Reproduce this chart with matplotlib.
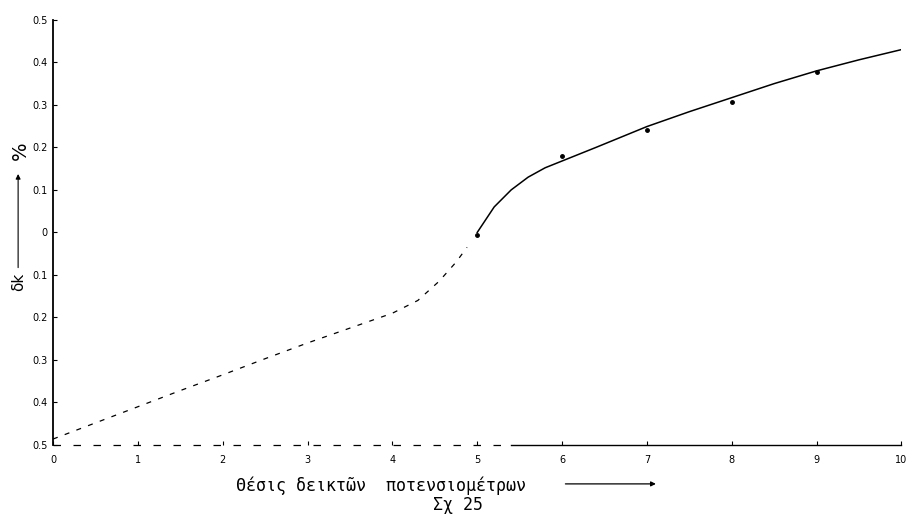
import matplotlib
matplotlib.use("Agg")
import matplotlib.pyplot as plt

# extrapolated (dashed) part of the curve
dash_x = [0, 0.5, 1, 1.5, 2, 2.5, 3, 3.5, 4, 4.3, 4.55, 4.75, 4.88]
dash_y = [-0.486, -0.448, -0.41, -0.372, -0.335, -0.297, -0.26, -0.225, -0.19, -0.16, -0.115, -0.07, -0.035]

# measured (solid) part of the curve
solid_x = [5.0, 5.2, 5.4, 5.6, 5.8, 6.0, 6.4, 7.0, 7.5, 8.0, 8.5, 9.0, 9.5, 10.0]
solid_y = [0.0, 0.06, 0.1, 0.13, 0.152, 0.168, 0.2, 0.249, 0.284, 0.317, 0.35, 0.38, 0.406, 0.43]

# measured points
pts_x = [5, 6, 7, 8, 9]
pts_y = [-0.005, 0.18, 0.242, 0.307, 0.377]

yticks = [0.5, 0.4, 0.3, 0.2, 0.1, 0, -0.1, -0.2, -0.3, -0.4, -0.5]
ytick_labels = ["0.5", "0.4", "0.3", "0.2", "0.1", "0", "0.1", "0.2", "0.3", "0.4", "0.5"]
xticks = list(range(0, 11))

fig = plt.figure(figsize=(9.06, 5.22), dpi=100)
ax = fig.add_axes([0.0585, 0.1475, 0.9365, 0.8145])

ax.plot(dash_x, dash_y, color="black", lw=0.9, ls=(0, (4, 6)))
ax.plot(solid_x, solid_y, color="black", lw=1.1)
ax.plot(pts_x, pts_y, "o", color="black", ms=2.5)

ax.set_xlim(0, 10)
ax.set_ylim(-0.5, 0.5)
ax.set_yticks(yticks)
ax.set_yticklabels(ytick_labels)
ax.set_xticks(xticks)
ax.tick_params(direction="in", length=3, width=0.8, labelsize=7)
ax.tick_params(axis="y", pad=4)
ax.tick_params(axis="x", pad=7)

for s in ["top", "right", "bottom"]:
    ax.spines[s].set_visible(False)
ax.spines["left"].set_linewidth(1.3)

# broken bottom axis line as in the scan
ax.axhline(-0.5, 0, 0.54, color="black", lw=0.9, ls=(0, (6, 10)), clip_on=False)
ax.axhline(-0.5, 0.54, 1, color="black", lw=1.0, clip_on=False)

# y label: δk ---> %
fig.text(0.021, 0.46, "δk", rotation=90, fontsize=11, ha="center", va="center")
ax.annotate("", xy=(0.02, 0.672), xytext=(0.02, 0.482), xycoords="figure fraction",
            textcoords="figure fraction", annotation_clip=False,
            arrowprops=dict(arrowstyle="-|>", color="black", lw=0.8, mutation_scale=7))
fig.text(0.022, 0.712, "%", rotation=90, fontsize=14, ha="center", va="center")

# x label
fig.text(0.42, 0.069, "Θέσις δεικτῶν  ποτενσιομέτρων", fontsize=12,
         family="DejaVu Sans Mono", ha="center", va="center")
fig.text(0.506, 0.033, "Σχ 25", fontsize=12, family="DejaVu Sans Mono",
         ha="center", va="center")
ax.annotate("", xy=(0.727, 0.073), xytext=(0.621, 0.073), xycoords="figure fraction",
            textcoords="figure fraction", annotation_clip=False,
            arrowprops=dict(arrowstyle="-|>", color="black", lw=0.9, mutation_scale=7))

fig.savefig("out.png", dpi=100)
